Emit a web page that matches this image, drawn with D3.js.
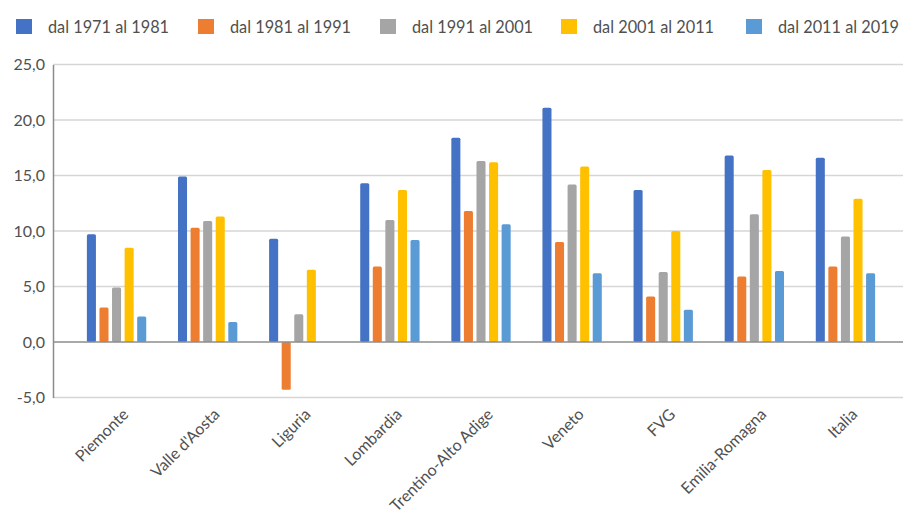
<!DOCTYPE html>
<html>
<head>
<meta charset="utf-8">
<script src="https://cdn.jsdelivr.net/npm/d3@7"></script>
<style>
  html, body { margin: 0; padding: 0; background: #ffffff; }
  svg { display: block; }
  text { font-family: Lato, "Open Sans", sans-serif; fill: #505050; }
</style>
</head>
<body>
<svg id="chart" width="903" height="520"></svg>
<script>
// Regioni e periodi intercensuari
const regions = ["Piemonte", "Valle d'Aosta", "Liguria", "Lombardia", "Trentino-Alto Adige",
                 "Veneto", "FVG", "Emilia-Romagna", "Italia"];
const periods = ["dal 1971 al 1981", "dal 1981 al 1991", "dal 1991 al 2001",
                 "dal 2001 al 2011", "dal 2011 al 2019"];

// Variazione percentuale per periodo (una serie per periodo, in ordine di regione)
const v1971_1981 = [9.7, 14.9, 9.3, 14.3, 18.4, 21.1, 13.7, 16.8, 16.6];
const v1981_1991 = [3.1, 10.3, -4.3, 6.8, 11.8, 9.0, 4.1, 5.9, 6.8];
const v1991_2001 = [4.9, 10.9, 2.5, 11.0, 16.3, 14.2, 6.3, 11.5, 9.5];
const v2001_2011 = [8.5, 11.3, 6.5, 13.7, 16.2, 15.8, 10.0, 15.5, 12.9];
const v2011_2019 = [2.3, 1.8, null, 9.2, 10.6, 6.2, 2.9, 6.4, 6.2];

const yTicks = [-5, 0, 5, 10, 15, 20, 25];
const colors = ["#4472C4", "#ED7D31", "#A5A5A5", "#FFC000", "#5B9BD5"];

const seriesValues = [v1971_1981, v1981_1991, v1991_2001, v2001_2011, v2011_2019];
const rows = [];
regions.forEach((r, i) => {
  periods.forEach((p, j) => {
    const v = seriesValues[j][i];
    if (v !== null) rows.push({ region: r, period: p, value: v, color: colors[j] });
  });
});

const svg = d3.select("#chart");
const axisX = 53, plotRight = 903, plotTop = 64.5, plotBottom = 397.5;

const itFormat = d3.formatLocale({
  decimal: ",", thousands: ".", grouping: [3], currency: ["", " €"], minus: "-"
}).format(".1f");

const y = d3.scaleLinear().domain([-5, 25]).range([plotBottom, plotTop]);

const x0 = d3.scaleBand().domain(regions).range([71, 891])
  .paddingInner(0.31).paddingOuter(0.155);
const x1 = d3.scaleBand().domain(periods).range([0, x0.bandwidth()])
  .paddingInner(0.28).paddingOuter(0.14);

// Griglia orizzontale
svg.append("g").selectAll("line")
  .data(yTicks.filter(t => t !== 0))
  .join("line")
  .attr("x1", axisX).attr("x2", plotRight)
  .attr("y1", d => y(d)).attr("y2", d => y(d))
  .attr("stroke", "#d6d6d6").attr("stroke-width", 1.3);

// Barre
svg.append("g").selectAll("rect")
  .data(rows)
  .join("rect")
  .attr("x", d => x0(d.region) + x1(d.period))
  .attr("width", x1.bandwidth())
  .attr("y", d => y(Math.max(0, d.value)))
  .attr("height", d => Math.abs(y(d.value) - y(0)))
  .attr("rx", 1.5)
  .attr("fill", d => d.color);

// Linea dello zero
svg.append("line")
  .attr("x1", axisX).attr("x2", plotRight)
  .attr("y1", y(0)).attr("y2", y(0))
  .attr("stroke", "#8c8c8c").attr("stroke-width", 1.5);

// Asse verticale
const yAxis = d3.axisLeft(y).tickValues(yTicks).tickFormat(itFormat).tickSize(0).tickPadding(8);
const gy = svg.append("g").attr("transform", `translate(${axisX},0)`).call(yAxis);
gy.select(".domain").attr("stroke", "#8c8c8c").attr("stroke-width", 1.5);
gy.selectAll("text").style("font-size", "16px").attr("fill", "#505050")
  .style("font-family", "Lato, 'Open Sans', sans-serif");

// Etichette delle regioni, ruotate di 45 gradi
svg.append("g").selectAll("text")
  .data(regions)
  .join("text")
  .attr("transform", d => `translate(${x0(d) + x0.bandwidth() / 2 + 5},${plotBottom + 10}) rotate(-45)`)
  .attr("text-anchor", "end")
  .attr("dy", "0.7em")
  .style("font-size", "16px")
  .text(d => d);

// Legenda
const legendX = [16, 198, 380, 561, 746];
const legend = svg.append("g").selectAll("g")
  .data(periods)
  .join("g")
  .attr("transform", (d, i) => `translate(${legendX[i]},0)`);
legend.append("rect")
  .attr("x", 0).attr("y", 19).attr("width", 16).attr("height", 15)
  .attr("fill", (d, i) => colors[i]);
legend.append("text")
  .attr("x", 32).attr("y", 26.5)
  .attr("dominant-baseline", "central")
  .style("font-size", "16.3px")
  .text(d => d);
</script>
</body>
</html>
